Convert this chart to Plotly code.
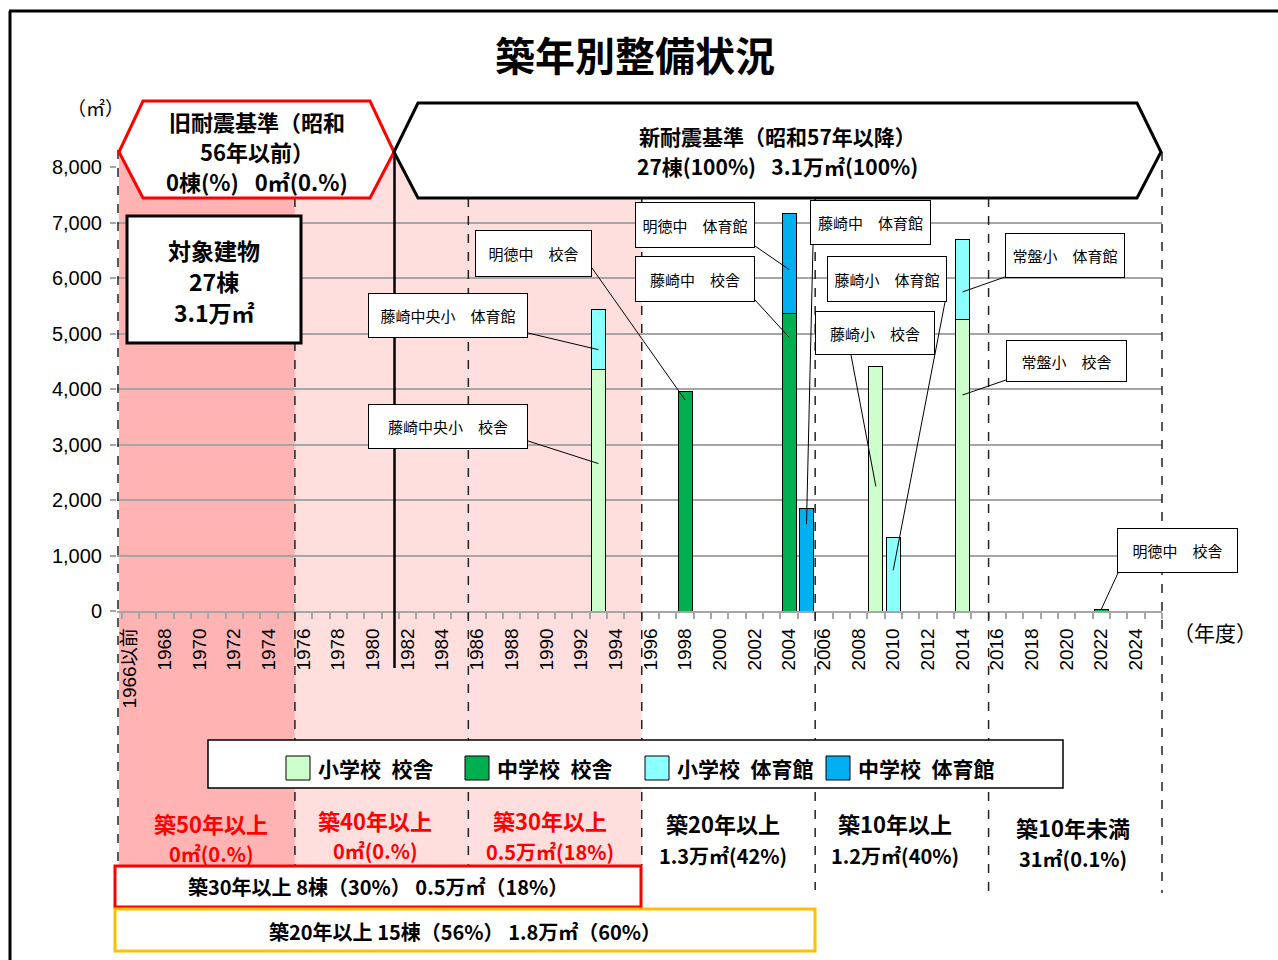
import plotly.graph_objects as go

# ---------------- data ----------------
years = [1993, 1998, 2004, 2005, 2009, 2010, 2014, 2022]
es_school = [4355, None, None, None, 4400, None, 5260, None]   # 小学校 校舎
js_school = [None, 3960, 5360, None, None, None, None, 31]     # 中学校 校舎
es_gym = [1070, None, None, None, None, 1330, 1440, None]      # 小学校 体育館
js_gym = [None, None, 1800, 1840, None, None, None, None]      # 中学校 体育館
series_names = ['小学校 校舎', '中学校 校舎', '小学校 体育館', '中学校 体育館']
series_values = [es_school, js_school, es_gym, js_gym]
series_colors = ['#CCFFCC', '#00B050', '#8CFFFF', '#00B0F0']
tick_years = list(range(1966, 2025, 2))
tick_labels = ['1966以前'] + [str(y) for y in tick_years[1:]]
y_ticks = [0, 1000, 2000, 3000, 4000, 5000, 6000, 7000, 8000]

# ---------------- layout helpers ----------------
W, H = 1278, 960
PL, PR, PT, PB = 117, 1162, 167, 611
XR1 = 2025.5
CAT = (PR - PL - 4.5) / 60.0
XR0 = 1965.5 - 4.5 / CAT
YMAX = 8000

CJK = 'Noto Sans CJK JP'
LAT = 'Liberation Sans, Noto Sans CJK JP'


def xp(px):
    return (px - PL) / (PR - PL)


def yp(py):
    return (PB - py) / (PB - PT)


def dx(px):
    return XR0 + (px - PL) / (PR - PL) * (XR1 - XR0)


def dy(py):
    return (PB - py) / (PB - PT) * YMAX


def year_px(yr):
    return PL + (yr - XR0) * (PR - PL) / (XR1 - XR0)


def v(x):
    return 0 if x is None else x


def seg_point(si, yi, frac):
    base = sum(v(series_values[k][yi]) for k in range(si))
    return base + frac * v(series_values[si][yi])


fig = go.Figure()
for name, vals, col in zip(series_names, series_values, series_colors):
    fig.add_trace(go.Bar(x=years, y=vals, name=name, width=0.8,
                         marker=dict(color=col, line=dict(color='black', width=1)),
                         showlegend=False))

shapes = []
ann = []

# pink background bands
shapes.append(dict(type='rect', xref='paper', yref='paper', layer='below',
                   x0=xp(119), x1=xp(year_px(1975.5)), y0=yp(865), y1=yp(150),
                   fillcolor='#FFB3B3', line=dict(width=0)))
shapes.append(dict(type='rect', xref='paper', yref='paper', layer='below',
                   x0=xp(year_px(1975.5)), x1=xp(year_px(1995.5)), y0=yp(865), y1=yp(150),
                   fillcolor='#FFDEDE', line=dict(width=0)))

# outer frame
shapes.append(dict(type='line', xref='paper', yref='paper', x0=xp(10), x1=xp(10),
                   y0=yp(11), y1=yp(970), line=dict(color='black', width=3)))
shapes.append(dict(type='line', xref='paper', yref='paper', x0=xp(9), x1=xp(1290),
                   y0=yp(11), y1=yp(11), line=dict(color='black', width=3)))

# dashed age-band separators
dash_lines = [(118, 150, 865), (year_px(1975.5), 198, 865), (year_px(1985.5), 198, 865),
              (year_px(1995.5), 198, 865), (year_px(2005.5), 198, 890),
              (year_px(2015.5), 198, 897), (year_px(2025.5), 152, 893)]
for x, t, b in dash_lines:
    shapes.append(dict(type='line', xref='paper', yref='paper', x0=xp(x), x1=xp(x),
                       y0=yp(t), y1=yp(b), line=dict(color='#222222', width=1.5, dash='dash')))

# 1981/1982 boundary line
shapes.append(dict(type='line', xref='paper', yref='paper', x0=xp(394.5), x1=xp(394.5),
                   y0=yp(152), y1=yp(668), line=dict(color='black', width=2.5)))


def hexagon(pts, color):
    path = 'M ' + ' L '.join(f'{xp(a):.5f},{yp(b):.5f}' for a, b in pts) + ' Z'
    return dict(type='path', xref='paper', yref='paper', path=path,
                fillcolor='white', line=dict(color=color, width=3))


shapes.append(hexagon([(119, 152), (143, 101), (370, 101), (394, 152), (370, 198), (143, 198)], '#FF0000'))
shapes.append(hexagon([(394, 152), (418, 103), (1137, 103), (1161, 152), (1137, 198), (418, 198)], 'black'))


def rect(x0, y0, x1, y1, color, w):
    return dict(type='rect', xref='paper', yref='paper', x0=xp(x0), x1=xp(x1),
                y0=yp(y1), y1=yp(y0), fillcolor='white', line=dict(color=color, width=w))


shapes.append(rect(127, 216, 301, 343, 'black', 3))
shapes.append(rect(115, 866, 641, 907, '#FF0000', 3))
shapes.append(rect(115, 909, 815, 951, '#FFC000', 3))
shapes.append(rect(208, 740, 1063, 788, 'black', 1.5))

# legend swatches and labels
leg_x = [286, 465, 645, 826]
for lx, name, col in zip(leg_x, series_names, series_colors):
    shapes.append(dict(type='rect', xref='paper', yref='paper', x0=xp(lx), x1=xp(lx + 24),
                       y0=yp(780), y1=yp(756), fillcolor=col, line=dict(color='black', width=1)))
    ann.append(dict(xref='paper', yref='paper', x=xp(lx + 30), y=yp(768), xanchor='left',
                    yanchor='middle', showarrow=False,
                    text='<b>' + name.replace(' ', '\u2002') + '</b>',
                    font=dict(family=CJK, size=21, color='black')))


def text(x, y, s, size, color='black', bold=False, anchor='center'):
    ann.append(dict(xref='paper', yref='paper', x=xp(x), y=yp(y), xanchor=anchor,
                    yanchor='middle', showarrow=False,
                    text=f'<b>{s}</b>' if bold else s,
                    font=dict(family=CJK, size=size, color=color)))


# title and axis captions
text(635, 54, '築年別整備状況', 40, bold=True)
text(95, 108, '（㎡）', 19)
text(1215, 632, '（年度）', 21)

# hexagon texts
text(257, 121, '旧耐震基準（昭和', 22, bold=True)
text(257, 151, '56年以前）', 22, bold=True)
text(257, 181, '0棟(%)\u2002 0㎡(0.%)', 22, bold=True)
text(777, 136, '新耐震基準（昭和57年以降）', 21, bold=True)
text(777, 166, '27棟(100%)\u2002 3.1万㎡(100%)', 21, bold=True)

# target box
text(214, 250, '対象建物', 23, bold=True)
text(214, 281, '27棟', 23, bold=True)
text(214, 312, '3.1万㎡', 23, bold=True)

# age band labels
bands = [(211, 823, 853, '築50年以上', '0㎡(0.%)', '#FF0000'),
         (375, 820, 850, '築40年以上', '0㎡(0.%)', '#FF0000'),
         (550, 820, 851, '築30年以上', '0.5万㎡(18%)', '#FF0000'),
         (723, 823, 855, '築20年以上', '1.3万㎡(42%)', 'black'),
         (895, 823, 855, '築10年以上', '1.2万㎡(40%)', 'black'),
         (1073, 827, 858, '築10年未満', '31㎡(0.1%)', 'black')]
for x, y1, y2, s1, s2, c in bands:
    text(x, y1, s1, 22, c, bold=True)
    text(x, y2, s2, 20, c, bold=True)

text(378, 887, '築30年以上 8棟（30%） 0.5万㎡（18%）', 20, bold=True)
text(465, 931, '築20年以上 15棟（56%） 1.8万㎡（60%）', 20, bold=True)

# call-out boxes: label, box(px), leader start(px), series index, year index, fraction of segment
callouts = [
    ('明徳中　校舎', (475, 230, 592, 277), (592, 268), 1, 1, 0.96),
    ('藤崎中央小　体育館', (368, 293, 528, 338), (528, 333), 2, 0, 0.33),
    ('藤崎中央小　校舎', (368, 404, 528, 449), (528, 441), 0, 0, 0.61),
    ('明徳中　体育館', (635, 202, 755, 248), (755, 246), 3, 2, 0.44),
    ('藤崎中　校舎', (635, 256, 755, 302), (755, 300), 1, 2, 0.92),
    ('藤崎中　体育館', (810, 200, 931, 245), (813, 245), 3, 3, 0.85),
    ('藤崎小　体育館', (827, 256, 947, 302), (945, 302), 2, 5, 0.55),
    ('藤崎小　校舎', (815, 311, 935, 355), (851, 355), 0, 4, 0.51),
    ('常盤小　体育館', (1005, 233, 1125, 278), (1005, 277), 2, 6, 0.34),
    ('常盤小　校舎', (1006, 340, 1127, 382), (1006, 380), 0, 6, 0.74),
    ('明徳中　校舎', (1117, 528, 1238, 573), (1118, 573), 1, 7, 1.0),
]
for label, (bx0, by0, bx1, by1), (sx, sy), si, yi, frac in callouts:
    shapes.append(dict(type='line', xref='x', yref='y', x0=dx(sx), y0=dy(sy),
                       x1=years[yi], y1=seg_point(si, yi, frac),
                       line=dict(color='black', width=1)))
    ann.append(dict(xref='paper', yref='paper', x=xp((bx0 + bx1) / 2), y=yp((by0 + by1) / 2),
                    xanchor='center', yanchor='middle', showarrow=False, text=label,
                    width=bx1 - bx0 - 2, height=by1 - by0 - 2, borderpad=0,
                    bgcolor='white', bordercolor='black', borderwidth=1,
                    font=dict(family=CJK, size=15, color='black')))

fig.update_layout(
    width=W, height=H,
    margin=dict(l=PL, r=W - PR, t=PT, b=H - PB, pad=0),
    paper_bgcolor='white', plot_bgcolor='rgba(0,0,0,0)',
    barmode='stack', bargap=0.2,
    shapes=shapes, annotations=ann,
    xaxis=dict(range=[XR0, XR1], tickmode='array', tickvals=tick_years, ticktext=tick_labels,
               tickangle=-90, ticks='', showgrid=False, zeroline=False,
               showline=True, linecolor='#A6A6A6', linewidth=1.5,
               ticklabelstandoff=8,
               tickfont=dict(family=LAT, size=19, color='black'),
               minor=dict(ticks='outside', tick0=1965.5, dtick=1, ticklen=6,
                          tickcolor='#A6A6A6', tickwidth=1.5, showgrid=False)),
    yaxis=dict(range=[0, YMAX], tickvals=y_ticks, tickformat=',d',
               showgrid=True, gridcolor='#A6A6A6', gridwidth=1.5, zeroline=False,
               ticks='outside', ticklen=6, tickcolor='#A6A6A6', tickwidth=1.5,
               ticklabelstandoff=4,
               tickfont=dict(family=LAT, size=20, color='black')),
)

fig.write_html('out.html', config={'displayModeBar': False},
               post_script="document.body.style.margin='0';")
